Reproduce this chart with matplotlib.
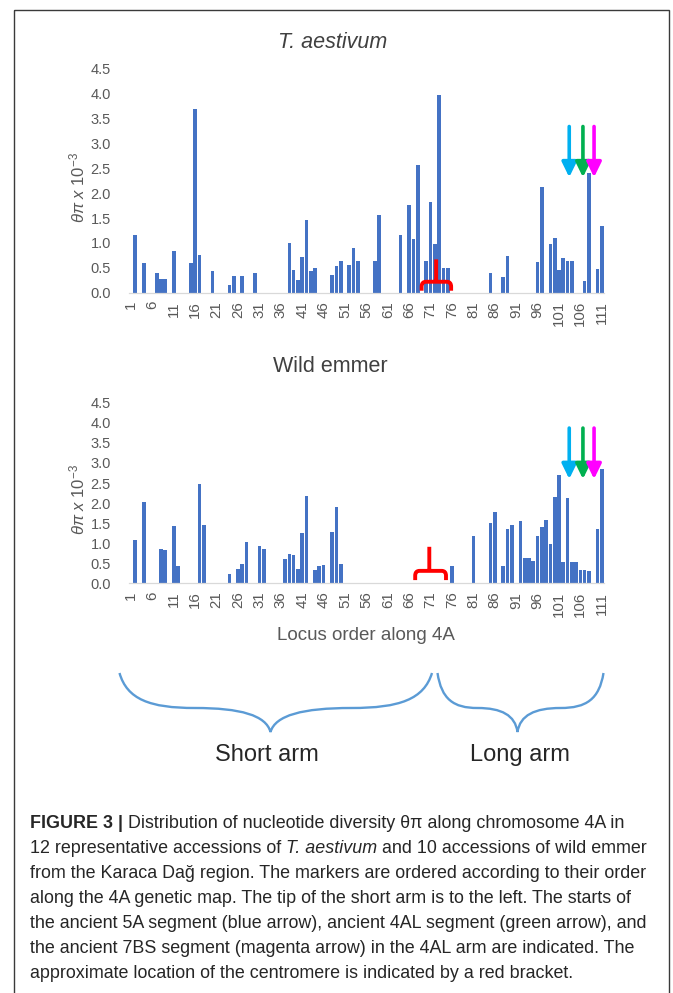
import numpy as np
import matplotlib
matplotlib.use("Agg")
import matplotlib.pyplot as plt
from matplotlib.path import Path
from matplotlib.patches import PathPatch, Rectangle

plt.rcParams['font.family'] = ['Liberation Sans', 'DejaVu Sans']
plt.rcParams['mathtext.fontset'] = 'custom'
plt.rcParams['mathtext.rm'] = 'Liberation Sans'
plt.rcParams['mathtext.it'] = 'Liberation Sans:italic'

# ---- data (theta-pi x 10^-3 per locus along 4A) ----
n_loci = 111
tick_loci = list(range(1, n_loci + 1, 5))

aest_loci = [2, 4, 7, 8, 9, 11, 15, 16, 17, 20, 24, 25, 27, 30,
             38, 39, 40, 41, 42, 43, 44, 48, 49, 50, 52, 53, 54, 58, 59,
             64, 66, 67, 68, 70, 71, 72, 73, 74, 75, 85, 88, 89,
             96, 97, 99, 100, 101, 102, 103, 104, 107, 108, 110, 111]
aest_vals = [1.15, 0.6, 0.4, 0.27, 0.27, 0.83, 0.6, 3.7, 0.75, 0.43, 0.16, 0.33, 0.33, 0.4,
             1.0, 0.45, 0.25, 0.72, 1.47, 0.43, 0.5, 0.36, 0.54, 0.64, 0.56, 0.9, 0.64, 0.64, 1.57,
             1.16, 1.77, 1.07, 2.56, 0.64, 1.83, 0.97, 3.97, 0.5, 0.5, 0.4, 0.31, 0.74,
             0.62, 2.12, 0.98, 1.09, 0.46, 0.69, 0.64, 0.64, 0.24, 2.4, 0.48, 1.35]

emmer_loci = [2, 4, 8, 9, 11, 12, 17, 18, 24, 26, 27, 28, 31, 32,
              37, 38, 39, 40, 41, 42, 44, 45, 46, 48, 49, 50,
              76, 81, 85, 86, 88, 89, 90, 92, 93, 94, 95, 96, 97, 98, 99, 100,
              101, 102, 103, 104, 105, 106, 107, 108, 110, 111]
emmer_vals = [1.08, 2.02, 0.85, 0.82, 1.42, 0.43, 2.47, 1.45, 0.24, 0.36, 0.47, 1.03, 0.93, 0.86,
              0.6, 0.74, 0.71, 0.35, 1.26, 2.18, 0.34, 0.44, 0.46, 1.29, 1.9, 0.47,
              0.44, 1.18, 1.5, 1.78, 0.44, 1.35, 1.46, 1.56, 0.62, 0.62, 0.56, 1.18, 1.4, 1.58, 0.98, 2.15,
              2.7, 0.52, 2.12, 0.52, 0.52, 0.32, 0.32, 0.3, 1.35, 2.85]

# segment starts (blue 5A, green 4AL, magenta 7BS) and centromere
arrow_loci = [103.4, 106.6, 109.2]
arrow_colors = ['#00b0f0', '#00b050', '#ff00ff']

bar_color = '#4472c4'
tick_color = '#595959'

W, H = 673, 993
fig = plt.figure(figsize=(W / 100, H / 100), dpi=100)

# overlay in pixel coordinates for the frame, braces and caption
ov = fig.add_axes([0, 0, 1, 1])
ov.set_xlim(0, W)
ov.set_ylim(H, 0)
ov.axis('off')
ov.add_patch(Rectangle((14, 10), 655, 1000, fill=False, ec='#3a3a3a', lw=1.0, clip_on=False))


def px_axes(left, right, top, bottom):
    return fig.add_axes([left / W, 1 - bottom / H, (right - left) / W, (bottom - top) / H])


def bracket(ax, x0, x1, xm, ybot, yh, ytop, cx, cy):
    verts = [(x0, ybot), (x0, yh - cy), (x0, yh), (x0 + cx, yh), (x1 - cx, yh),
             (x1, yh), (x1, yh - cy), (x1, ybot), (xm, yh), (xm, ytop)]
    codes = [Path.MOVETO, Path.LINETO, Path.CURVE3, Path.CURVE3, Path.LINETO,
             Path.CURVE3, Path.CURVE3, Path.LINETO, Path.MOVETO, Path.LINETO]
    ax.add_patch(PathPatch(Path(verts, codes), fill=False, ec='#ff0000', lw=2.8,
                           capstyle='butt', joinstyle='round', clip_on=False, zorder=5))


def panel(ax, loci, vals, arrow_top, arrow_tip, br, ylab_y):
    heights = np.zeros(n_loci)
    heights[np.array(loci) - 1] = vals
    ax.bar(np.arange(1, n_loci + 1), heights, width=0.86, color=bar_color, zorder=2)
    ax.set_xlim(0.5, n_loci + 0.5)
    ax.set_ylim(0, 4.5)
    ax.patch.set_alpha(0)
    for s in ['top', 'right', 'left']:
        ax.spines[s].set_visible(False)
    ax.spines['bottom'].set_color('#d9d9d9')
    ax.spines['bottom'].set_linewidth(0.9)
    yt = np.arange(0, 4.51, 0.5)
    ax.set_yticks(yt)
    ax.set_yticklabels([f'{v:.1f}' for v in yt])
    ax.set_xticks(tick_loci)
    ax.set_xticklabels([str(t) for t in tick_loci], rotation=90)
    ax.tick_params(axis='y', length=0, pad=13, labelsize=10.5, labelcolor=tick_color)
    ax.tick_params(axis='x', length=0, pad=6, labelsize=10.8, labelcolor=tick_color)
    ax.text(-0.108, ylab_y, r'$\mathit{\theta\pi\ x\ 10^{-3}}$', rotation=90, ha='center',
            va='center', transform=ax.transAxes, fontsize=12, color=tick_color)
    for xa, c in zip(arrow_loci, arrow_colors):
        ax.annotate('', xy=(xa, arrow_tip), xytext=(xa, arrow_top),
                    arrowprops=dict(arrowstyle='-|>,head_length=0.45,head_width=0.22',
                                    color=c, lw=2.6, mutation_scale=20,
                                    shrinkA=0, shrinkB=0), zorder=6)
    bracket(ax, *br)


ax1 = px_axes(128.9, 603.9, 68.8, 292.7)
panel(ax1, aest_loci, aest_vals, 3.34, 2.32,
      (68.9, 75.8, 72.3, 0.04, 0.22, 0.67, 1.0, 0.1), 0.468)
ax2 = px_axes(128.9, 603.9, 402.8, 583.3)
panel(ax2, emmer_loci, emmer_vals, 3.87, 2.6,
      (67.4, 74.6, 70.7, 0.08, 0.31, 0.91, 1.0, 0.12), 0.467)

ov.text(333, 43, 'T. aestivum', ha='center', va='center', fontsize=15.5, style='italic',
        color='#404040')
ov.text(330, 366, 'Wild emmer', ha='center', va='center', fontsize=15.5, color='#404040')
ov.text(366, 636, 'Locus order along 4A', ha='center', va='center', fontsize=13.5,
        color=tick_color)


def brace(x0, xt, x1, yt, ym, ytip):
    hl = xt - x0
    hr = x1 - xt
    verts = [(x0, yt), (x0 + 0.05 * hl, yt + 0.75 * (ym - yt)), (x0 + 0.2 * hl, ym), (x0 + 0.5 * hl, ym),
             (x0 + 0.8 * hl, ym), (xt - 0.03 * hl, ym + 0.3 * (ytip - ym)), (xt, ytip),
             (xt + 0.03 * hr, ym + 0.3 * (ytip - ym)), (xt + 0.2 * hr, ym), (xt + 0.5 * hr, ym),
             (x1 - 0.2 * hr, ym), (x1 - 0.05 * hr, yt + 0.75 * (ym - yt)), (x1, yt)]
    codes = [Path.MOVETO] + [Path.CURVE4] * 12
    ov.add_patch(PathPatch(Path(verts, codes), fill=False, ec='#5b9bd5', lw=1.7))


brace(119.5, 270.5, 432, 673, 708, 732)
brace(437.5, 517.5, 603.5, 673, 708, 732)
ov.text(267, 755, 'Short arm', ha='center', va='center', fontsize=17, color='#262626')
ov.text(520, 755, 'Long arm', ha='center', va='center', fontsize=17, color='#262626')

# caption, drawn run by run so bold/italic parts sit inline
cap_font = ['Liberation Sans', 'DejaVu Sans']
cap_lines = [
    [('FIGURE 3 |', 'bold', 'normal'), (' Distribution of nucleotide diversity θπ along chromosome 4A in', 'normal', 'normal')],
    [('12 representative accessions of ', 'normal', 'normal'), ('T. aestivum', 'normal', 'italic'),
     (' and 10 accessions of wild emmer', 'normal', 'normal')],
    [('from the Karaca Dağ region. The markers are ordered according to their order', 'normal', 'normal')],
    [('along the 4A genetic map. The tip of the short arm is to the left. The starts of', 'normal', 'normal')],
    [('the ancient 5A segment (blue arrow), ancient 4AL segment (green arrow), and', 'normal', 'normal')],
    [('the ancient 7BS segment (magenta arrow) in the 4AL arm are indicated. The', 'normal', 'normal')],
    [('approximate location of the centromere is indicated by a red bracket.', 'normal', 'normal')],
]
renderer = fig.canvas.get_renderer()
for i, runs in enumerate(cap_lines):
    x = 30
    y = 828 + 25 * i
    for txt, wt, st in runs:
        t = ov.text(x, y, txt, ha='left', va='baseline', fontsize=12.9, family=cap_font,
                    weight=wt, style=st, color='#262626')
        x += t.get_window_extent(renderer).width

fig.savefig('out.png', dpi=100)
